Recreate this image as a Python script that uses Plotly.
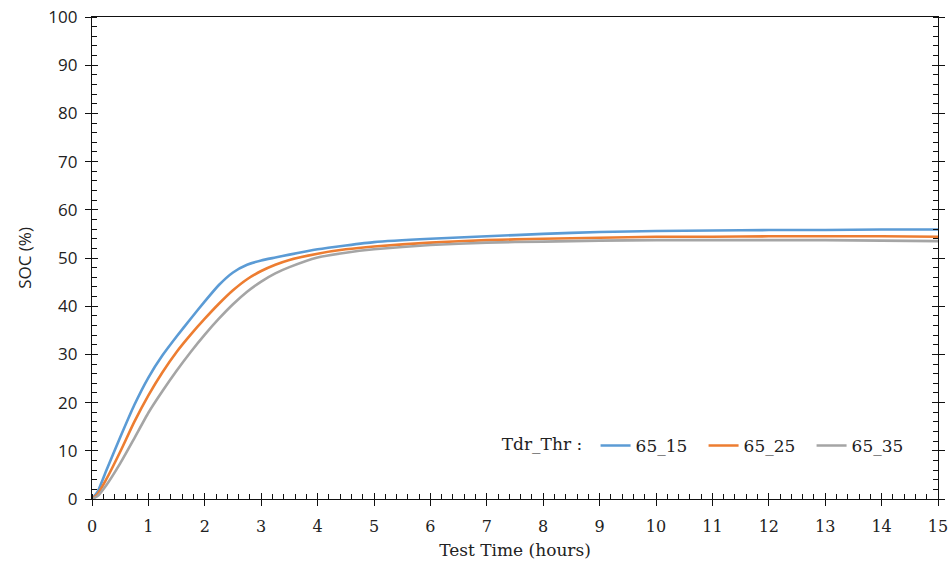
import plotly.graph_objects as go

# Test time in hours
time_h = [0, 0.1, 0.25, 0.5, 0.75, 1, 1.25, 1.5, 1.75, 2, 2.25, 2.5, 2.75, 3,
          3.25, 3.5, 4, 4.5, 5, 6, 7, 8, 9, 10, 11, 12, 13, 14, 15]

# State of charge (%) for each Tdr_Thr setting
soc_65_15 = [0, 1.5, 5.8, 12.8, 19.5, 25.2, 29.8, 33.7, 37.4, 41.0, 44.4, 47.0, 48.6, 49.5,
             50.1, 50.7, 51.8, 52.6, 53.3, 54.0, 54.5, 55.0, 55.4, 55.6, 55.7, 55.8, 55.8, 55.9, 55.9]
soc_65_25 = [0, 1.0, 4.0, 9.8, 16.0, 21.5, 26.3, 30.5, 34.1, 37.4, 40.5, 43.3, 45.6, 47.3,
             48.6, 49.6, 50.9, 51.8, 52.4, 53.2, 53.7, 54.0, 54.2, 54.4, 54.4, 54.5, 54.5, 54.5, 54.4]
soc_65_35 = [0, 0.6, 2.8, 7.4, 12.6, 17.9, 22.4, 26.6, 30.5, 34.1, 37.4, 40.4, 43.0, 45.1,
             46.8, 48.1, 50.1, 51.1, 51.8, 52.7, 53.2, 53.4, 53.6, 53.7, 53.7, 53.7, 53.7, 53.6, 53.5]

series_names = ["65_15", "65_25", "65_35"]
series_colors = ["#5B9BD5", "#ED7D31", "#A5A5A5"]

x_ticks = list(range(0, 16))
y_ticks = list(range(0, 101, 10))

serif = "DejaVu Serif"
sans = "Open Sans"

fig = go.Figure()
for name, vals, col in zip(series_names, [soc_65_15, soc_65_25, soc_65_35], series_colors):
    fig.add_trace(go.Scatter(
        x=time_h, y=vals, name=name, mode="lines",
        line=dict(color=col, width=2.6, shape="spline", smoothing=0.5),
    ))

# helper trace so the inner half of the crossing major ticks is drawn
fig.add_trace(go.Scatter(x=[None], y=[None], xaxis="x2", yaxis="y2",
                         showlegend=False, hoverinfo="skip"))

fig.update_layout(
    width=951, height=567,
    margin=dict(l=92, r=13, t=17, b=68),
    paper_bgcolor="white", plot_bgcolor="white",
    showlegend=True,
    legend=dict(
        orientation="h", x=0.482, y=0.11, xanchor="left", yanchor="middle",
        title=dict(text="Tdr_Thr : ", side="left", font=dict(family=serif, size=17, color="#222")),
        font=dict(family=serif, size=17, color="#222"),
        bgcolor="rgba(0,0,0,0)", itemwidth=30, tracegroupgap=0,
        entrywidth=63, entrywidthmode="pixels",
    ),
    xaxis=dict(
        range=[0, 15], tickvals=x_ticks, ticktext=[str(v) for v in x_ticks],
        ticks="outside", ticklen=6, tickwidth=1.3, tickcolor="#111",
        minor=dict(ticks="inside", dtick=0.2, ticklen=5, tickwidth=1.3, tickcolor="#111", showgrid=False),
        showline=True, linecolor="#111", linewidth=1.3, mirror=True,
        showgrid=False, zeroline=False, automargin=False,
        tickfont=dict(family=serif, size=16, color="#222"),
        ticklabelstandoff=7,
        title=dict(text="Test Time (hours)", font=dict(family=serif, size=17, color="#222"), standoff=8),
    ),
    xaxis2=dict(
        overlaying="x", matches="x", anchor="y", side="bottom",
        range=[0, 15], tickvals=x_ticks, ticks="inside", ticklen=6, tickwidth=1.3, tickcolor="#111",
        showticklabels=False, showline=False, showgrid=False, zeroline=False, automargin=False,
    ),
    yaxis=dict(
        range=[0, 100], tickvals=y_ticks, ticktext=[str(v) for v in y_ticks],
        ticks="outside", ticklen=6, tickwidth=1.3, tickcolor="#111",
        minor=dict(ticks="inside", dtick=2, ticklen=5, tickwidth=1.3, tickcolor="#111", showgrid=False),
        showline=True, linecolor="#111", linewidth=1.3, mirror="ticks",
        showgrid=False, zeroline=False, automargin=False,
        tickfont=dict(family=sans, size=17, color="#222"),
        ticklabelstandoff=4,
        title=dict(text="SOC (%)", font=dict(family=sans, size=17, color="#222"), standoff=12),
    ),
    yaxis2=dict(
        overlaying="y", matches="y", anchor="x", side="left",
        range=[0, 100], tickvals=y_ticks, ticks="inside", ticklen=6, tickwidth=1.3, tickcolor="#111",
        mirror="ticks", showticklabels=False, showline=False, showgrid=False, zeroline=False,
        automargin=False,
    ),
)

fig.write_html("out.html")
